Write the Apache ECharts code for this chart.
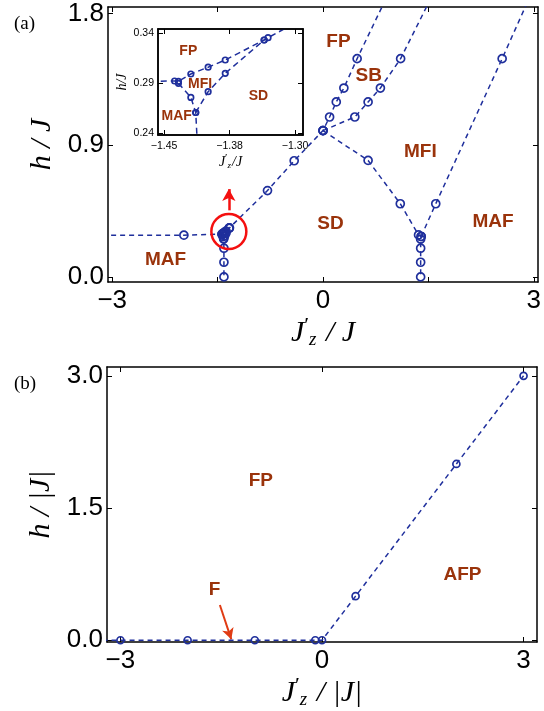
<!DOCTYPE html>
<html>
<head>
<meta charset="utf-8">
<script src="https://cdn.jsdelivr.net/npm/echarts@6/dist/echarts.min.js"></script>
<style>
  html, body { margin: 0; padding: 0; background: #fff; }
  #chart { width: 544px; height: 711px; }
</style>
</head>
<body>
<div id="chart"></div>
<script>
// ---- panel (a): phase boundaries, points are [J'z/J, h/J] ----
// FP lower edge: flat MAF/FP part, upper edge of the cluster, then up through the junction
const fpLower = [[-1.98, 0.285], [-1.438, 0.292], [-1.4336, 0.2917], [-1.4194, 0.299], [-1.3996, 0.3058],
  [-1.380, 0.313], [-1.3355, 0.333], [-1.331, 0.3353], [-0.79, 0.59], [-0.41, 0.794], [0, 1.0],
  [0.094, 1.093], [0.189, 1.196], [0.297, 1.291], [0.486, 1.492]]
const fpLowerEnds = [[-3.4, 0.285], [0.9, 1.906]]
// MAF / MFI on the left, down to h = 0
const mafLeft = [[-1.4336, 0.2897], [-1.4194, 0.2756], [-1.4138, 0.2605], [-1.41, 0.196], [-1.41, 0.10], [-1.41, 0.0]]
// MFI / SD inside the cluster
const sdLeft = [[-1.4138, 0.2605], [-1.3996, 0.2813], [-1.380, 0.2997], [-1.3355, 0.333]]
// SB / MFI
const sbMfi = [[0, 1.0], [0.453, 1.093], [0.642, 1.196], [0.817, 1.291], [1.105, 1.492]]
const sbMfiEnds = [null, [1.53, 1.9]]
// MFI / SD on the right, down to h = 0
const sdRight = [[0, 1.0], [0.642, 0.796], [1.10, 0.50], [1.36, 0.287], [1.397, 0.276], [1.39, 0.258],
  [1.39, 0.196], [1.39, 0.10], [1.39, 0.0]]
// MFI / MAF on the right
const mafRight = [[1.397, 0.276], [1.605, 0.50], [2.55, 1.492]]
const mafRightEnds = [null, [2.93, 1.9]]

const regionNamesA = ['FP', 'SB', 'MFI', 'SD', 'MAF', 'MAF']
const regionSpotsA = [[0.22, 1.607], [0.65, 1.378], [1.386, 0.858], [0.107, 0.363], [2.42, 0.378], [-2.24, 0.116]]
const insetNames = ['FP', 'MFI', 'SD', 'MAF']
const insetSpots = [[-1.4223, 0.3216], [-1.4089, 0.2893], [-1.342, 0.2766], [-1.4356, 0.2566]]

const ticksAx = [-3, -1.5, 0, 1.5, 3]
const labelsAx = [-3, 0, 3]
const ticksAy = [0, 0.9, 1.8]
const ticksInsetX = [-1.45, -1.375, -1.30]
const ticksInsetY = [0.24, 0.29, 0.34]

// ---- panel (b) ----
const fpAfp = [[-3, 0], [-2, 0], [-1, 0], [-0.1, 0], [0, 0], [0.5, 0.5], [2, 2], [3, 3]]
const fpAfpEnds = [[-3.4, 0], null]
const regionNamesB = ['FP', 'AFP', 'F']
const regionSpotsB = [[-0.91, 1.81], [2.09, 0.74], [-1.6, 0.57]]
const ticksBx = [-3, 0, 3]
const ticksBy = [0, 1.5, 3]

const BLUE = '#1f2f9c'
const BROWN = '#9a330b'
const SANS = 'Liberation Sans, Arial, Helvetica, sans-serif'
const SERIF = 'Liberation Serif, Times New Roman, serif'

function minus(s) { return String(s).replace('-', '\u2212') }

function boundary(pts, ends, xi, yi, size, dash) {
  let data = []
  if (ends && ends[0]) data.push({ value: ends[0], symbol: 'none' })
  pts.forEach(p => data.push(p))
  if (ends && ends[1]) data.push({ value: ends[1], symbol: 'none' })
  return {
    type: 'line',
    xAxisIndex: xi,
    yAxisIndex: yi,
    data: data,
    symbol: 'circle',
    symbolSize: size,
    showAllSymbol: true,
    clip: true,
    z: 5,
    lineStyle: { color: BLUE, width: 1.5, type: dash },
    itemStyle: { color: 'rgba(255,255,255,0)', borderColor: BLUE, borderWidth: 1.7, opacity: 1 },
    emphasis: { disabled: true },
    silent: true
  }
}

function regionLabels(names, spots, xi, yi, size) {
  return {
    type: 'scatter',
    xAxisIndex: xi,
    yAxisIndex: yi,
    data: names.map((n, i) => ({ name: n, value: spots[i] })),
    symbolSize: 1,
    itemStyle: { color: 'rgba(0,0,0,0)', opacity: 1 },
    label: {
      show: true, position: 'inside', formatter: '{b}',
      color: BROWN, fontWeight: 'bold', fontSize: size, fontFamily: SANS
    },
    emphasis: { disabled: true },
    z: 6,
    silent: true
  }
}

function frameAxis(kind, grid, pos, min, max, ticks, labels, fmt, fontSize, name, extra) {
  let ax = {
    type: 'value',
    gridIndex: grid,
    position: pos,
    min: min,
    max: max,
    axisLine: { show: true, onZero: false, lineStyle: { color: '#000', width: 1.5 } },
    axisTick: { show: true, inside: true, length: 5, customValues: ticks, lineStyle: { color: '#000', width: 1 } },
    splitLine: { show: false },
    axisLabel: labels ? {
      show: true, customValues: labels, formatter: fmt, color: '#000',
      fontSize: fontSize, fontFamily: SANS, margin: kind == 'x' ? 6 : 4
    } : { show: false }
  }
  if (name) Object.assign(ax, name)
  if (extra) Object.assign(ax, extra)
  return ax
}

const richMain = {
  i: { fontFamily: SERIF, fontStyle: 'italic', fontSize: 30, color: '#000' },
  p: { fontFamily: SERIF, fontSize: 22, color: '#000', padding: [0, 0, 14, 0] },
  s: { fontFamily: SERIF, fontStyle: 'italic', fontSize: 19, color: '#000', padding: [14, 2, 0, 0] }
}
const richInset = {
  i: { fontFamily: SERIF, fontStyle: 'italic', fontSize: 14, color: '#000' },
  p: { fontFamily: SERIF, fontSize: 11, color: '#000', padding: [0, 0, 7, 0] },
  s: { fontFamily: SERIF, fontStyle: 'italic', fontSize: 9, color: '#000', padding: [7, 1, 0, 0] }
}

const xA = [-3.06, 3.06], yA = [-0.035, 1.845]
const xI = [-1.457, -1.291], yI = [0.238, 0.344]
const xB = [-3.2, 3.2], yB = [-0.02, 3.1]

const fmtInt = v => minus(v)
const fmt1 = v => v.toFixed(1)
const fmt2 = v => minus(v.toFixed(2))

const option = {
  animation: false,
  backgroundColor: '#fff',
  grid: [
    { left: 108, top: 7, width: 432, height: 275 },
    { left: 158, top: 29, width: 145, height: 106, show: true, backgroundColor: '#fff', borderWidth: 0, z: 3 },
    { left: 107, top: 367, width: 430, height: 275 }
  ],
  xAxis: [
    frameAxis('x', 0, 'bottom', xA[0], xA[1], ticksAx, labelsAx, fmtInt, 26,
      { name: '{i|J}{p|\u2032}{s|z}{i| / J}', nameLocation: 'middle', nameGap: 28,
        nameTextStyle: { rich: richMain } }),
    frameAxis('x', 0, 'top', xA[0], xA[1], ticksAx, null),
    frameAxis('x', 1, 'bottom', xI[0], xI[1], ticksInsetX, ticksInsetX, fmt2, 10.5,
      { name: '{i|J}{p|\u2032}{s|z}{i|/J}', nameLocation: 'middle', nameGap: 17,
        nameTextStyle: { rich: richInset } }, { z: 4 }),
    frameAxis('x', 1, 'top', xI[0], xI[1], ticksInsetX, null, null, null, null, { z: 4 }),
    frameAxis('x', 2, 'bottom', xB[0], xB[1], ticksBx, ticksBx, fmtInt, 26,
      { name: '{i|J}{p|\u2032}{s|z}{i| / |J|}', nameLocation: 'middle', nameGap: 28,
        nameTextStyle: { rich: richMain } }),
    frameAxis('x', 2, 'top', xB[0], xB[1], ticksBx, null)
  ],
  yAxis: [
    frameAxis('y', 0, 'left', yA[0], yA[1], ticksAy, ticksAy, fmt1, 26,
      { name: 'h / J', nameLocation: 'middle', nameGap: 50,
        nameTextStyle: { fontFamily: SERIF, fontStyle: 'italic', fontSize: 30, color: '#000' } }),
    frameAxis('y', 0, 'right', yA[0], yA[1], ticksAy, null),
    frameAxis('y', 1, 'left', yI[0], yI[1], ticksInsetY, ticksInsetY, fmt2, 10.5,
      { name: 'h/J', nameLocation: 'middle', nameGap: 28,
        nameTextStyle: { fontFamily: SERIF, fontStyle: 'italic', fontSize: 14, color: '#000' } }, { z: 4 }),
    frameAxis('y', 1, 'right', yI[0], yI[1], ticksInsetY, null, null, null, null, { z: 4 }),
    frameAxis('y', 2, 'left', yB[0], yB[1], ticksBy, ticksBy, fmt1, 26,
      { name: 'h / |J|', nameLocation: 'middle', nameGap: 41,
        nameTextStyle: { fontFamily: SERIF, fontStyle: 'italic', fontSize: 30, color: '#000' } }),
    frameAxis('y', 2, 'right', yB[0], yB[1], ticksBy, null)
  ],
  series: [
    // panel (a)
    boundary(fpLower, fpLowerEnds, 0, 0, 8, [5, 4]),
    boundary(mafLeft, null, 0, 0, 8, [5, 4]),
    boundary(sdLeft, null, 0, 0, 8, [5, 4]),
    boundary(sbMfi, sbMfiEnds, 0, 0, 8, [5, 4]),
    boundary(sdRight, null, 0, 0, 8, [5, 4]),
    boundary(mafRight, mafRightEnds, 0, 0, 8, [5, 4]),
    regionLabels(regionNamesA, regionSpotsA, 0, 0, 19),
    {
      // red ring round the cluster, and the arrow pointing at the inset
      type: 'scatter',
      xAxisIndex: 0, yAxisIndex: 0,
      data: [[-1.34, 0.31]],
      symbol: 'circle',
      symbolSize: 35,
      itemStyle: { color: 'rgba(0,0,0,0)', borderColor: '#f41010', borderWidth: 2.5, opacity: 1 },
      emphasis: { disabled: true },
      z: 7,
      silent: true,
      markLine: {
        silent: true,
        symbol: ['none', 'arrow'],
        symbolSize: [10, 12],
        label: { show: false },
        lineStyle: { color: '#f41010', width: 2.5, type: 'solid', opacity: 1 },
        data: [[{ coord: [-1.34, 0.455] }, { coord: [-1.34, 0.60] }]]
      }
    },
    // inset
    boundary(fpLower, fpLowerEnds, 2, 2, 5.5, [6, 4]),
    boundary(mafLeft, null, 2, 2, 5.5, [6, 4]),
    boundary(sdLeft, null, 2, 2, 5.5, [6, 4]),
    regionLabels(insetNames, insetSpots, 2, 2, 14),
    // panel (b)
    boundary(fpAfp, fpAfpEnds, 4, 4, 7, [5, 4]),
    regionLabels(regionNamesB, regionSpotsB, 4, 4, 19),
    {
      type: 'scatter',
      xAxisIndex: 4, yAxisIndex: 4,
      data: [],
      silent: true,
      markLine: {
        silent: true,
        symbol: ['none', 'arrow'],
        symbolSize: [9, 11],
        label: { show: false },
        lineStyle: { color: '#e03c14', width: 2, type: 'solid', opacity: 1 },
        data: [[{ coord: [-1.52, 0.40] }, { coord: [-1.35, 0.01] }]]
      }
    }
  ],
  graphic: [
    { type: 'text', left: 14, top: 15, style: { text: '(a)', fontFamily: SERIF, fontSize: 19, fill: '#000' } },
    { type: 'text', left: 14, top: 375, style: { text: '(b)', fontFamily: SERIF, fontSize: 19, fill: '#000' } },
    { type: 'rect', shape: { x: 158, y: 29, width: 145, height: 106 }, style: { fill: 'none', stroke: '#000', lineWidth: 1.5 }, z: 100 }
  ]
}

const chart = echarts.init(document.getElementById('chart'), null, { renderer: 'canvas' })
chart.setOption(option)
</script>
</body>
</html>
